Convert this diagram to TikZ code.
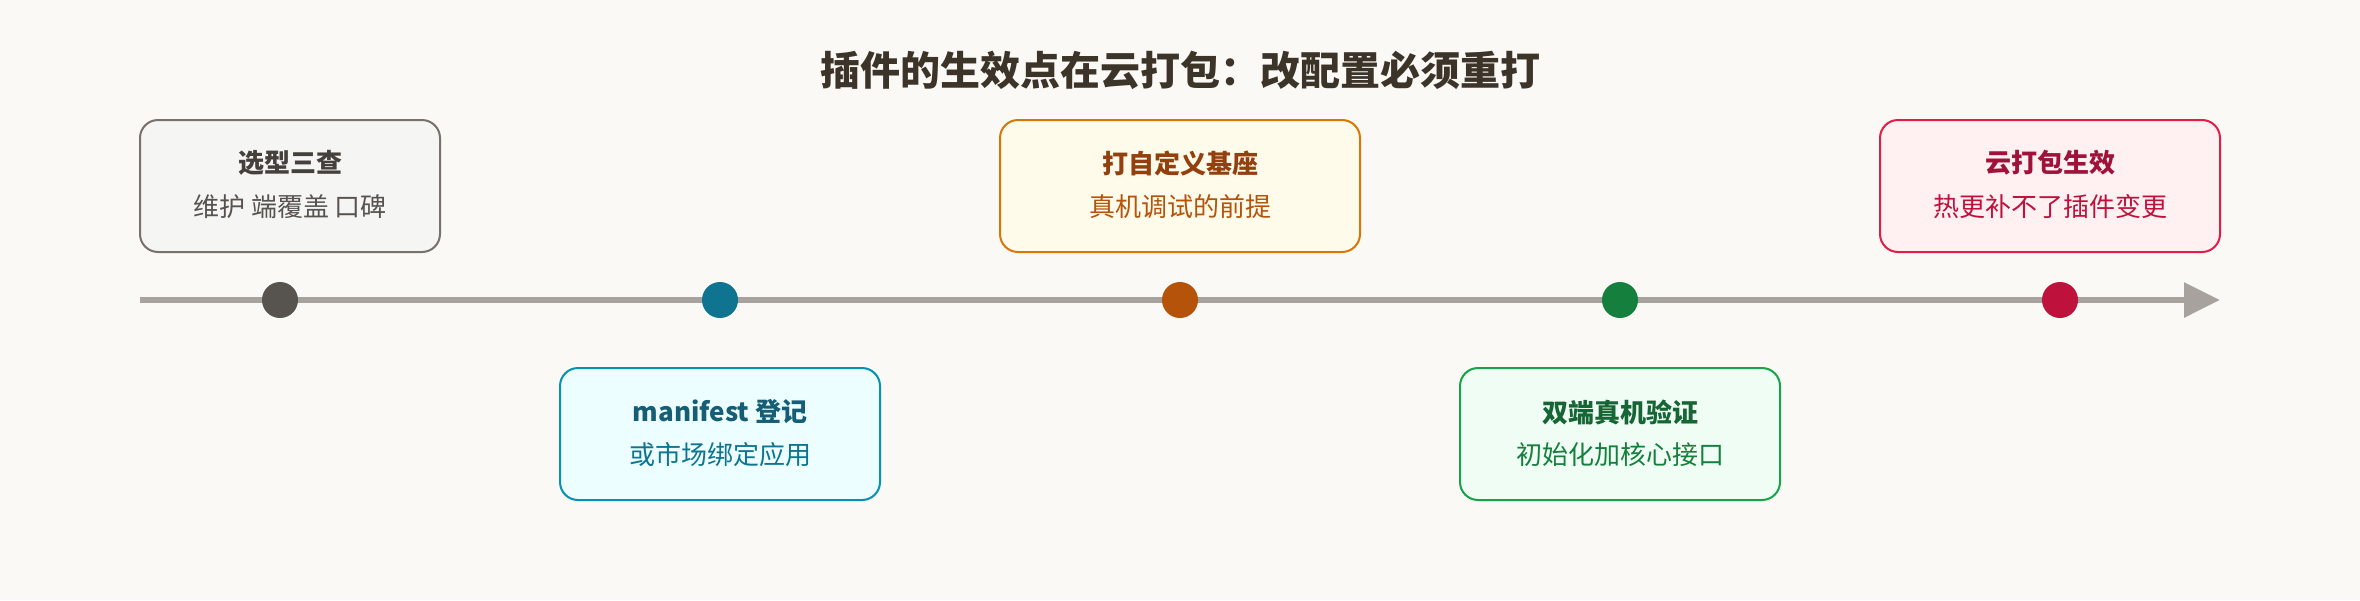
\documentclass[tikz,border=0pt]{standalone}
\usepackage{fontspec}
\setmainfont{Noto Sans CJK SC}
\usepackage{xcolor}
\usepackage{tikz}
\usetikzlibrary{positioning, arrows.meta}
\definecolor{pagebg}{RGB}{250, 249, 245}
\definecolor{headink}{RGB}{61, 52, 41}
\definecolor{spinegray}{RGB}{168, 162, 158}
\definecolor{stoneline}{RGB}{120, 113, 108}
\definecolor{stonefill}{RGB}{245, 245, 244}
\definecolor{stonehead}{RGB}{68, 64, 60}
\definecolor{stonetext}{RGB}{87, 83, 78}
\definecolor{cyanline}{RGB}{8, 145, 178}
\definecolor{cyanfill}{RGB}{236, 254, 255}
\definecolor{cyanhead}{RGB}{21, 94, 117}
\definecolor{cyantext}{RGB}{14, 116, 144}
\definecolor{amberline}{RGB}{217, 119, 6}
\definecolor{amberfill}{RGB}{255, 251, 235}
\definecolor{amberhead}{RGB}{146, 64, 14}
\definecolor{ambertext}{RGB}{180, 83, 9}
\definecolor{greenline}{RGB}{22, 163, 74}
\definecolor{greenfill}{RGB}{240, 253, 244}
\definecolor{greenhead}{RGB}{22, 101, 52}
\definecolor{greentext}{RGB}{21, 128, 61}
\definecolor{roseline}{RGB}{225, 29, 72}
\definecolor{rosefill}{RGB}{255, 241, 242}
\definecolor{rosehead}{RGB}{159, 18, 57}
\definecolor{rosetext}{RGB}{190, 18, 60}
\begin{document}
\begin{tikzpicture}[
  x=1pt, y=-1pt,
  spine/.style={line width=6pt, draw=spinegray, -{Triangle[length=36pt, width=34pt]}},
  stopdot/.style={circle, minimum size=36pt, inner sep=0},
  stagebox/.style={rounded corners=18pt, line width=2pt, minimum height=132pt, inner sep=0},
  stagehead/.style={font=\fontsize{26}{30}\selectfont\bfseries, inner sep=0},
  stagetext/.style={font=\fontsize{26}{30}\selectfont, inner sep=0},
]
\fill[pagebg] (0, 0) rectangle (2360, 600);
\useasboundingbox (0, 0) rectangle (2360, 600);

% Heading
\node[font=\fontsize{40}{46}\selectfont\bfseries, text=headink] (heading) at (1180, 70) {插件的生效点在云打包：改配置必须重打};

% Timeline spine
\coordinate (spinestart) at (140, 300);
\coordinate (spineend) at (2220, 300);
\draw[spine] (spinestart) -- (spineend);

% ==================== 选型 ====================
\node[stopdot, fill=stonetext] (dot1) at (280, 300) {};
\node[stagebox, draw=stoneline, fill=stonefill, minimum width=300pt] (box1) at (290, 186) {};
\node[stagehead, text=stonehead] (head1) at ([yshift=23pt]box1.center) {选型三查};
\node[stagetext, text=stonetext] (text1) at ([yshift=-21pt]box1.center) {维护 端覆盖 口碑};

% ==================== manifest ====================
\node[stopdot, fill=cyantext] (dot2) at (720, 300) {};
\node[stagebox, draw=cyanline, fill=cyanfill, minimum width=320pt] (box2) at (720, 434) {};
\node[stagehead, text=cyanhead] (head2) at ([yshift=22pt]box2.center) {manifest 登记};
\node[stagetext, text=cyantext] (text2) at ([yshift=-21pt]box2.center) {或市场绑定应用};

% ==================== 基座 ====================
\node[stopdot, fill=ambertext] (dot3) at (1180, 300) {};
\node[stagebox, draw=amberline, fill=amberfill, minimum width=360pt] (box3) at (1180, 186) {};
\node[stagehead, text=amberhead] (head3) at ([yshift=23pt]box3.center) {打自定义基座};
\node[stagetext, text=ambertext] (text3) at ([yshift=-21pt]box3.center) {真机调试的前提};

% ==================== 真机 ====================
\node[stopdot, fill=greentext] (dot4) at (1620, 300) {};
\node[stagebox, draw=greenline, fill=greenfill, minimum width=320pt] (box4) at (1620, 434) {};
\node[stagehead, text=greenhead] (head4) at ([yshift=22pt]box4.center) {双端真机验证};
\node[stagetext, text=greentext] (text4) at ([yshift=-21pt]box4.center) {初始化加核心接口};

% ==================== 云打包 ====================
\node[stopdot, fill=rosetext] (dot5) at (2060, 300) {};
\node[stagebox, draw=roseline, fill=rosefill, minimum width=340pt] (box5) at (2050, 186) {};
\node[stagehead, text=rosehead] (head5) at ([yshift=23pt]box5.center) {云打包生效};
\node[stagetext, text=rosetext] (text5) at ([yshift=-21pt]box5.center) {热更补不了插件变更};

\end{tikzpicture}
\end{document}
